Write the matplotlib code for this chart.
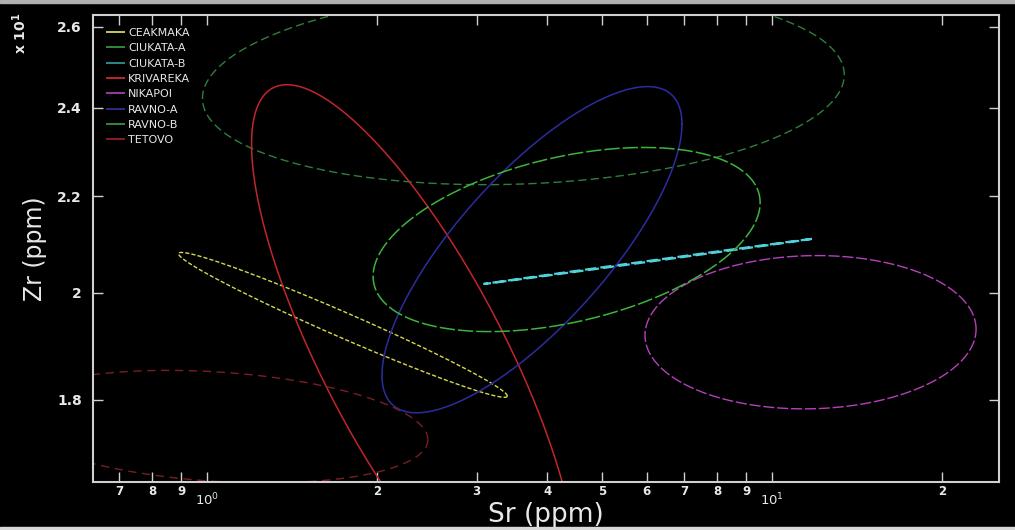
import numpy as np
import matplotlib
matplotlib.use("Agg")
import matplotlib.pyplot as plt
from matplotlib.lines import Line2D
from matplotlib.ticker import FixedLocator, NullLocator

# ---- data (confidence ellipses in log10 space) ----
groups = ["CEAKMAKA", "CIUKATA-A", "CIUKATA-B", "KRIVAREKA",
          "NIKAPOI", "RAVNO-A", "RAVNO-B", "TETOVO"]
center_sr = [1.74, 3.63, 6.03, 2.33, 11.70, 3.76, 4.33, 1.04]        # ppm
center_zr = [19.38, 24.51, 20.63, 18.73, 19.24, 20.87, 21.08, 17.53]  # ppm
sd_log_sr = [0.291, 0.568, 0.290, 0.2885, 0.293, 0.2655, 0.3425, 0.374]
sd_log_zr = [0.0310, 0.0420, 0.00964, 0.1176, 0.0328, 0.0698, 0.0394, 0.0241]
corr = [-0.982, 0.12, 0.9998, -0.783, 0.04, 0.77, 0.40, -0.23]

x_major = [1, 10]
x_major_labels = [r"$\mathregular{10^{0}}$", r"$\mathregular{10^{1}}$"]
x_minor = [0.7, 0.8, 0.9, 2, 3, 4, 5, 6, 7, 8, 9, 20]
x_minor_labels = ["7", "8", "9", "2", "3", "4", "5", "6", "7", "8", "9", "2"]
y_ticks = [18, 20, 22, 24, 26]
y_tick_labels = ["1.8", "2", "2.2", "2.4", "2.6"]

# ---- styles ----
line_colors = ["#d8d850", "#2f7f3c", "#50d0d8", "#c0262a",
               "#b640bc", "#2c2ca0", "#3cb43c", "#7c1c24"]
legend_colors = ["#c8c850", "#2f8a3c", "#2a8a8a", "#c0262a",
                 "#9a3aa0", "#2c2c90", "#2f8a3c", "#8a1c24"]
line_styles = [(0, (3, 1.5)), (0, (6, 3)), (0, (5, 2)), "-",
               (0, (8, 2)), "-", (0, (10, 2)), (0, (6, 4))]
line_widths = [1.0, 1.0, 1.6, 1.1, 1.0, 1.1, 1.1, 1.0]

fg = "#e8e8e8"
fig = plt.figure(figsize=(10.15, 5.30), dpi=100, facecolor="black")
ax = fig.add_axes([93 / 1015, 1 - 482 / 530, 906 / 1015, 467 / 530])
ax.set_facecolor("black")
ax.set_xscale("log")
ax.set_yscale("log")

t = np.linspace(0, 2 * np.pi, 600)
for i, g in enumerate(groups):
    r = corr[i]
    lx = np.log10(center_sr[i]) + sd_log_sr[i] * np.cos(t)
    ly = np.log10(center_zr[i]) + sd_log_zr[i] * (r * np.cos(t) + np.sqrt(1 - r * r) * np.sin(t))
    ax.plot(10 ** lx, 10 ** ly, color=line_colors[i], ls=line_styles[i], lw=line_widths[i])

ax.set_xlim(0.6284, 25.22)
ax.set_ylim(16.60, 26.30)

ax.xaxis.set_major_locator(FixedLocator(x_major))
ax.xaxis.set_minor_locator(FixedLocator(x_minor))
ax.set_xticklabels(x_major_labels)
ax.set_xticklabels(x_minor_labels, minor=True)
ax.yaxis.set_major_locator(FixedLocator(y_ticks))
ax.yaxis.set_minor_locator(NullLocator())
ax.set_yticklabels(y_tick_labels)

ax.tick_params(which="both", direction="in", length=7, width=1.0, color="#d0d0d0",
               top=True, right=True, labelcolor=fg, labelsize=8.5)
ax.tick_params(axis="x", which="minor", pad=2.5)
ax.tick_params(axis="x", which="major", pad=7, labelsize=9.5)
ax.tick_params(axis="y", pad=8, labelsize=10)
for lab in ax.get_yticklabels() + ax.get_xticklabels(minor=True):
    lab.set_fontweight("bold")
for s in ax.spines.values():
    s.set_color("#d0d0d0")
    s.set_linewidth(1.5)

ax.set_xlabel("Sr (ppm)", color=fg, fontsize=19)
ax.xaxis.set_label_coords(0.5, -(515 - 482) / 467)
ax.xaxis.label.set_va("center")
ax.set_ylabel("Zr (ppm)", color=fg, fontsize=17)
ax.yaxis.set_label_coords(-(93 - 35) / 906, 0.5)
ax.yaxis.label.set_va("center")
fig.text(20 / 1015, 1 - 33 / 530, r"x $\mathregular{10^{1}}$", rotation=90, color=fg,
         fontsize=10, ha="center", va="center", fontweight="bold")

handles = [Line2D([0], [0], color=c, lw=1.4) for c in legend_colors]
leg = ax.legend(handles, groups, loc="upper left", bbox_to_anchor=(14 / 906, 1 - 13 / 467),
                frameon=False, fontsize=8, handlelength=1.5, handletextpad=0.4,
                labelspacing=0.48, borderpad=0, borderaxespad=0)
for txt in leg.get_texts():
    txt.set_color(fg)

# thin light borders at top and bottom of the image
fig.patches.append(plt.Rectangle((0, 1 - 3 / 530), 1, 3 / 530, transform=fig.transFigure,
                                 color="#b0b0b0", zorder=0))
fig.patches.append(plt.Rectangle((0, 0), 1, 3 / 530, transform=fig.transFigure,
                                 color="#d8d8d8", zorder=0))

fig.savefig("out.png", dpi=100, facecolor="black")
